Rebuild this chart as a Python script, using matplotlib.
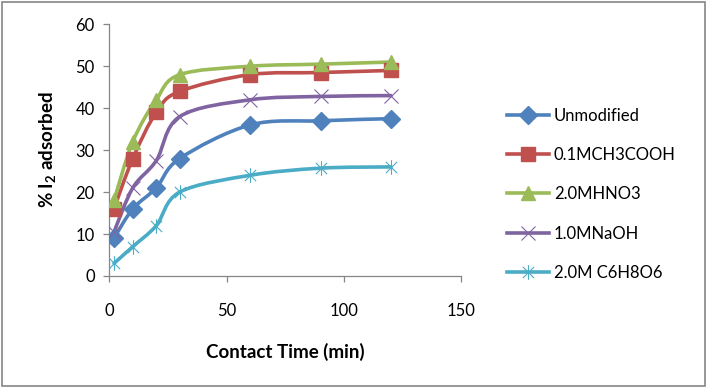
import matplotlib
matplotlib.use("Agg")
from matplotlib import pyplot as plt
from matplotlib.path import Path
from matplotlib.patches import PathPatch, Rectangle
from matplotlib.lines import Line2D

plt.rcParams['font.family'] = ['Lato', 'DejaVu Sans']
plt.rcParams['mathtext.fontset'] = 'custom'
plt.rcParams['mathtext.rm'] = 'Lato'
plt.rcParams['mathtext.bf'] = 'Lato:bold'

time = [2, 10, 20, 30, 60, 90, 120]
unmodified = [9, 16, 21, 28, 36, 37, 37.5]
ch3cooh = [16, 28, 39, 44, 48, 48.5, 49]
hno3 = [18, 32, 42, 48, 50, 50.5, 51]
naoh = [10.5, 21, 27.5, 38, 42, 42.8, 43]
c6h8o6 = [3, 7, 12, 20, 24, 25.7, 26]

labels = ["Unmodified", "0.1MCH3COOH", "2.0MHNO3", "1.0MNaOH", "2.0M C6H8O6"]
colors = ["#4F81BD", "#C0504D", "#9BBB59", "#8064A2", "#4BACC6"]
series = [unmodified, ch3cooh, hno3, naoh, c6h8o6]

star = Path([(-1, -1), (1, 1), (-1, 1), (1, -1), (0, -1.3), (0, 1.3)],
            [Path.MOVETO, Path.LINETO, Path.MOVETO, Path.LINETO, Path.MOVETO, Path.LINETO])
markers = ["D", "s", "^", "x", star]
msizes = [9.5, 10, 10.5, 10, 10.5]


def smooth_path(xs, ys):
    # excel style smoothed line (catmull-rom as bezier)
    pts = list(zip(xs, ys))
    n = len(pts)
    verts = [pts[0]]
    codes = [Path.MOVETO]
    for i in range(n - 1):
        p0 = pts[i - 1] if i > 0 else pts[i]
        p1 = pts[i]
        p2 = pts[i + 1]
        p3 = pts[i + 2] if i + 2 < n else pts[i + 1]
        c1 = (p1[0] + (p2[0] - p0[0]) / 6.0, p1[1] + (p2[1] - p0[1]) / 6.0)
        c2 = (p2[0] - (p3[0] - p1[0]) / 6.0, p2[1] - (p3[1] - p1[1]) / 6.0)
        verts += [c1, c2, p2]
        codes += [Path.CURVE4, Path.CURVE4, Path.CURVE4]
    return Path(verts, codes)


fig = plt.figure(figsize=(7.07, 3.88), dpi=100)
ax = fig.add_axes([0.1546, 0.2887, 0.4979, 0.6487])

handles = []
for ys, lab, col, mk, ms in zip(series, labels, colors, markers, msizes):
    thin = (mk == "x" or mk is star)
    ax.add_patch(PathPatch(smooth_path(time, ys), facecolor='none', edgecolor=col, lw=2.6,
                           capstyle='round', joinstyle='round', zorder=2))
    ax.plot(time, ys, linestyle='None', marker=mk, markersize=ms, color=col,
            markeredgecolor=col, markeredgewidth=0.8 if thin else 1.0, zorder=3)
    handles.append(Line2D([0], [0], color=col, lw=2.6, marker=mk, markersize=ms,
                          markeredgewidth=0.8 if thin else 1.0))

ax.set_xlim(0, 150)
ax.set_ylim(0, 60)
ax.set_xticks([0, 50, 100, 150])
ax.set_yticks(range(0, 61, 10))
for s in ['top', 'right']:
    ax.spines[s].set_visible(False)
for s in ['left', 'bottom']:
    ax.spines[s].set_color('#868686')
    ax.spines[s].set_linewidth(0.9)
ax.tick_params(axis='both', direction='out', length=4.5, width=0.9, color='#868686',
               labelsize=12, labelcolor='black')
ax.tick_params(axis='x', pad=15)
ax.tick_params(axis='y', pad=6)

ax.set_xlabel('Contact Time (min)', fontsize=13.5, fontweight='bold', labelpad=17)
ax.set_ylabel(r'% I$_\mathbf{2}$ adsorbed', fontsize=13.5, fontweight='bold', labelpad=12)

fig.legend(handles, labels, loc='upper left', bbox_to_anchor=(0.708, 0.74),
           frameon=False, fontsize=12, handlelength=2.5, handletextpad=0.3,
           labelspacing=1.4, borderaxespad=0)

fig.patches.append(Rectangle((0.003, 0.004), 0.994, 0.992, transform=fig.transFigure,
                             fill=False, edgecolor='#868686', lw=1.2))

fig.savefig("out.png", dpi=100)
